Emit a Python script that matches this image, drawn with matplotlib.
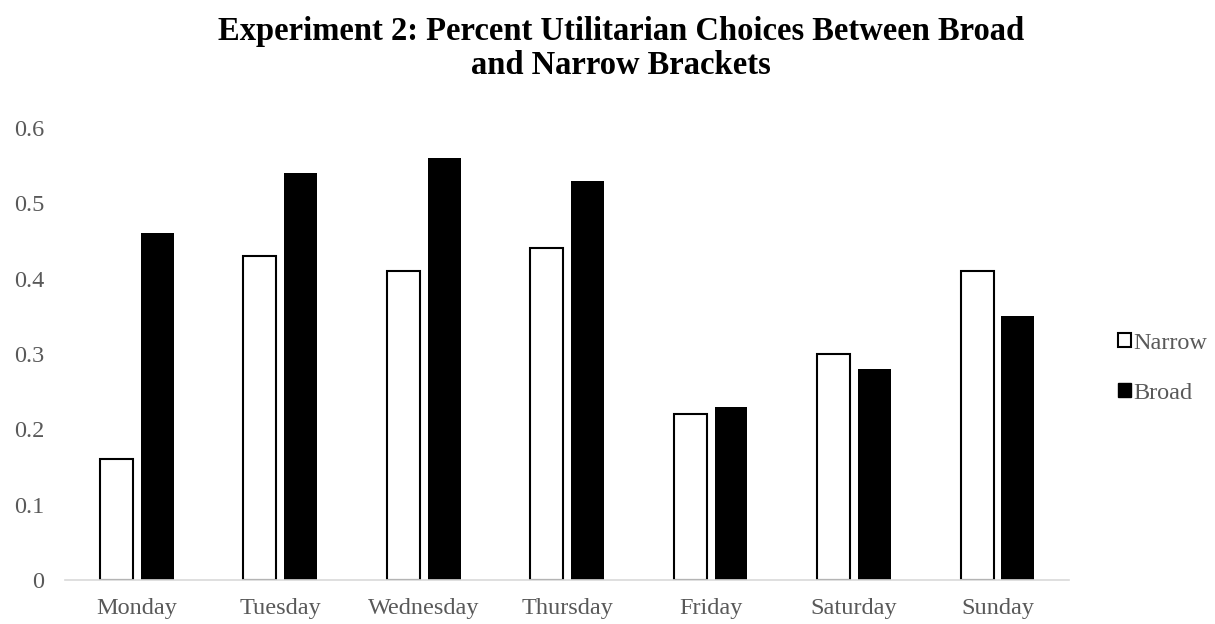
import numpy as np
import matplotlib
matplotlib.use('Agg')
import matplotlib.pyplot as plt
from matplotlib.patches import Patch

days = ['Monday', 'Tuesday', 'Wednesday', 'Thursday', 'Friday', 'Saturday', 'Sunday']
narrow = [0.16, 0.43, 0.41, 0.44, 0.22, 0.30, 0.41]
broad = [0.46, 0.54, 0.56, 0.53, 0.23, 0.28, 0.35]
yticks = [0, 0.1, 0.2, 0.3, 0.4, 0.5, 0.6]

plt.rcParams['font.family'] = ['Liberation Serif', 'DejaVu Serif']
grey = '#595959'

fig = plt.figure(figsize=(12.15, 6.24), dpi=100)
ax = fig.add_axes([0.0535, 0.0705, 0.8265, 0.7245])

x = np.arange(len(days))
w = 0.23
gap = 0.055
ax.bar(x - (w + gap) / 2, narrow, w, color='white', edgecolor='black', lw=1.5, label='Narrow')
ax.bar(x + (w + gap) / 2, broad, w, color='black', edgecolor='black', lw=0, label='Broad')

ax.set_xlim(-0.5, len(days) - 0.5)
ax.set_ylim(0, 0.6)
ax.set_yticks(yticks)
ax.set_yticklabels([f'{v:g}' for v in yticks])
ax.set_xticks(x)
ax.set_xticklabels(days)
ax.tick_params(length=0, labelsize=17.5, colors=grey)
ax.tick_params(axis='x', pad=13)
ax.tick_params(axis='y', pad=15)
for s in ('top', 'right', 'left'):
    ax.spines[s].set_visible(False)
ax.spines['bottom'].set_color('#d9d9d9')
ax.spines['bottom'].set_linewidth(1.2)

fig.suptitle('Experiment 2: Percent Utilitarian Choices Between Broad\nand Narrow Brackets',
             fontsize=23.5, fontweight='bold', y=0.975, x=0.511, linespacing=1.15)

handles = [Patch(facecolor='white', edgecolor='black', lw=1.5, label='Narrow'),
           Patch(facecolor='black', edgecolor='black', label='Broad')]
leg = fig.legend(handles=handles, loc='center left', bbox_to_anchor=(0.902, 0.41),
                 frameon=False, fontsize=17.5, handlelength=0.55, handleheight=0.55,
                 handletextpad=0.1, labelspacing=1.2)
for t in leg.get_texts():
    t.set_color(grey)

fig.savefig('out.png', dpi=100)
